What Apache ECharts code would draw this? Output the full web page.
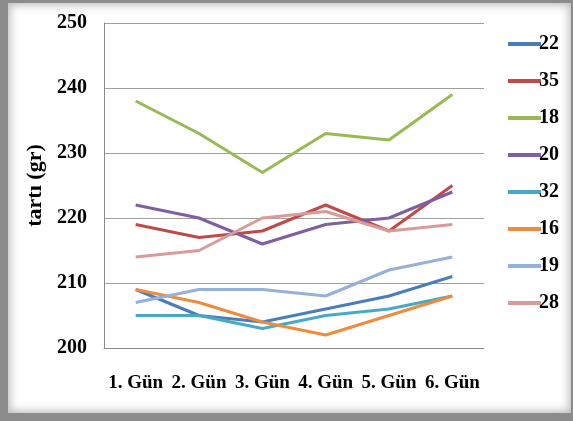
<!DOCTYPE html>
<html>
<head>
<meta charset="utf-8">
<script src="https://cdn.jsdelivr.net/npm/echarts@6/dist/echarts.min.js"></script>
<style>
  html, body { margin: 0; padding: 0; width: 573px; height: 421px; overflow: hidden; background: #8c8c8c; }
  #frame {
    position: absolute; left: 8px; top: 3px; width: 563px; height: 410px;
    background: #ffffff;
    box-shadow: inset 0 0 9px 2px rgba(120,120,120,0.5);
  }
  #chart { position: absolute; left: 0; top: 0; width: 573px; height: 421px; }
</style>
</head>
<body>
<div id="frame"></div>
<div id="chart"></div>
<script>
// Day labels along the x axis
const days = ['1. Gün', '2. Gün', '3. Gün', '4. Gün', '5. Gün', '6. Gün'];

// Weight (gr) per animal, one array per line
const s22 = [209, 205, 204, 206, 208, 211];
const s35 = [219, 217, 218, 222, 218, 225];
const s18 = [238, 233, 227, 233, 232, 239];
const s20 = [222, 220, 216, 219, 220, 224];
const s32 = [205, 205, 203, 205, 206, 208];
const s16 = [209, 207, 204, 202, 205, 208];
const s19 = [207, 209, 209, 208, 212, 214];
const s28 = [214, 215, 220, 221, 218, 219];

const seriesNames = ['22', '35', '18', '20', '32', '16', '19', '28'];
const seriesData = [s22, s35, s18, s20, s32, s16, s19, s28];
const colors = ['#4a7ebb', '#be4b48', '#98b954', '#7d60a0', '#46aac5', '#f08a3c', '#95b1d8', '#d99a99'];

const yTicks = { min: 200, max: 250, interval: 10 };

const serif = '"Liberation Serif", "Times New Roman", serif';

const chart = echarts.init(document.getElementById('chart'), null, { renderer: 'canvas' });

chart.setOption({
  animation: false,
  color: colors,
  grid: { left: 104, right: 89, top: 23, bottom: 73, containLabel: false },
  legend: {
    orient: 'vertical',
    left: 503,
    top: 28,
    itemWidth: 33,
    itemHeight: 4,
    itemGap: 15,
    icon: 'rect',
    data: seriesNames,
    textStyle: { fontFamily: serif, fontWeight: 'bold', fontSize: 20, color: '#000', padding: [0, 0, 0, -7], lineHeight: 22 }
  },
  xAxis: {
    type: 'category',
    data: days,
    boundaryGap: true,
    axisLine: { lineStyle: { color: '#8a8a8a', width: 1 } },
    axisTick: { inside: true, length: 6, lineStyle: { color: '#8a8a8a' } },
    axisLabel: { fontFamily: serif, fontWeight: 'bold', fontSize: 19, color: '#000', margin: 26, interval: 0 }
  },
  yAxis: {
    type: 'value',
    min: yTicks.min,
    max: yTicks.max,
    interval: yTicks.interval,
    name: 'tartı (gr)',
    nameLocation: 'middle',
    nameGap: 58,
    nameRotate: 90,
    nameTextStyle: { fontFamily: serif, fontWeight: 'bold', fontSize: 22, color: '#000' },
    axisLine: { show: true, lineStyle: { color: '#8a8a8a', width: 1 } },
    axisTick: { show: false },
    splitLine: { lineStyle: { color: '#a0a0a0', width: 1 } },
    axisLabel: { fontFamily: serif, fontWeight: 'bold', fontSize: 20, color: '#000', margin: 17 }
  },
  series: seriesNames.map((name, i) => ({
    name: name,
    type: 'line',
    data: seriesData[i],
    showSymbol: false,
    symbol: 'none',
    lineStyle: { width: 3, color: colors[i] },
    itemStyle: { color: colors[i] }
  }))
});
</script>
</body>
</html>
